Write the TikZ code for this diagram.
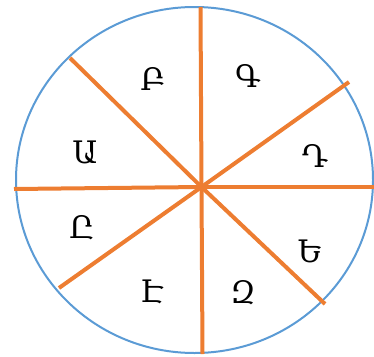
\documentclass[tikz,border=0pt]{standalone}
\usepackage{fontspec}
\newfontfamily\armfont{DejaVu Serif}
\definecolor{rimblue}{RGB}{91,155,213}
\definecolor{spokeorange}{RGB}{237,125,49}
\begin{document}
\begin{tikzpicture}[x=1pt,y=-1pt,
  rim/.style={draw=rimblue,line width=2pt},
  spoke/.style={draw=spokeorange,line width=4pt},
  lbl/.style={font=\armfont\fontsize{31}{31}\selectfont,inner sep=0pt}]
\useasboundingbox (0,0) rectangle (374,356);
\draw[rim] (194.5,180) ellipse [x radius=178.5, y radius=173];
\coordinate (c) at (201.5,187);
\coordinate (n) at (200.5,7);
\coordinate (s) at (202.5,354);
\coordinate (w) at (14,189);
\coordinate (e) at (375,187);
\coordinate (nw) at (70,58);
\coordinate (se) at (325,304);
\coordinate (ne) at (349,82);
\coordinate (sw) at (59,288);
\foreach \p in {n,s,w,e,nw,se,ne,sw}{\draw[spoke] (c) -- (\p);}
\node[lbl] (a) at (85,152) {Ա};
\node[lbl] (b) at (153,79) {Բ};
\node[lbl] (g) at (248,76) {Գ};
\node[lbl] (d) at (315,156) {Դ};
\node[lbl] (ye) at (310,251) {Ե};
\node[lbl] (z) at (243,293) {Զ};
\node[lbl] (ee) at (152,292) {Է};
\node[lbl] (y) at (82,228) {Ը};
\end{tikzpicture}
\end{document}
